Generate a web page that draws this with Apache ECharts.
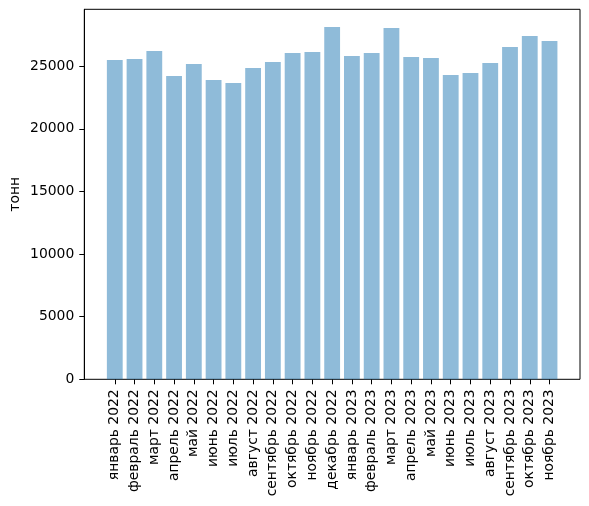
<!DOCTYPE html>
<html>
<head>
<meta charset="utf-8">
<title>тонн</title>
<script src="https://cdn.jsdelivr.net/npm/echarts@6/dist/echarts.min.js"></script>
<style>
html, body { margin: 0; padding: 0; background: #fff; }
#chart { width: 589px; height: 506px; }
</style>
</head>
<body>
<div id="chart"></div>
<script>
var months = ['январь 2022', 'февраль 2022', 'март 2022', 'апрель 2022', 'май 2022', 'июнь 2022',
  'июль 2022', 'август 2022', 'сентябрь 2022', 'октябрь 2022', 'ноябрь 2022', 'декабрь 2022',
  'январь 2023', 'февраль 2023', 'март 2023', 'апрель 2023', 'май 2023', 'июнь 2023',
  'июль 2023', 'август 2023', 'сентябрь 2023', 'октябрь 2023', 'ноябрь 2023'];
var tonnes = [25500, 25580, 26220, 24220, 25180, 23900, 23660, 24860, 25340, 26060, 26140, 28140,
  25820, 26060, 28060, 25740, 25660, 24300, 24460, 25260, 26540, 27420, 27020];

var FONT = 'DejaVu Sans';
var yMax = 29550;

var chart = echarts.init(document.getElementById('chart'));
var option = {
  animation: false,
  textStyle: { fontFamily: FONT },
  grid: [
    // frame around the plot
    { left: 84.3, right: 9, top: 9.3, bottom: 126.7, show: true, borderColor: '#000', borderWidth: 1,
      backgroundColor: 'transparent', containLabel: false, outerBoundsMode: 'none' },
    // bars, with matplotlib's side margins
    { left: 104.9, right: 29.6, top: 9.3, bottom: 126.7, containLabel: false, outerBoundsMode: 'none' }
  ],
  xAxis: [
    { gridIndex: 0, type: 'value', min: 0, max: 1, show: false },
    {
      gridIndex: 1, type: 'category', data: months,
      axisLine: { show: false },
      axisTick: { show: true, alignWithLabel: true, length: 5, lineStyle: { color: '#000' } },
      axisLabel: { rotate: 90, interval: 0, margin: 10, color: '#000', fontSize: 13.9, fontFamily: FONT }
    }
  ],
  yAxis: [
    {
      gridIndex: 0, type: 'value', min: 0, max: yMax, interval: 5000,
      name: 'тонн', nameLocation: 'middle', nameGap: 62, nameMoveOverlap: false,
      nameTextStyle: { color: '#000', fontSize: 13.9, fontFamily: FONT },
      axisLine: { show: true, lineStyle: { color: '#000' } },
      axisTick: { show: true, length: 5, lineStyle: { color: '#000' } },
      axisLabel: { margin: 10, color: '#000', fontSize: 13.9, fontFamily: FONT, showMaxLabel: false,
        formatter: function (v) { return String(v); } },
      splitLine: { show: false }
    },
    { gridIndex: 1, type: 'value', min: 0, max: yMax, show: false, splitLine: { show: false } }
  ],
  series: [{
    type: 'bar',
    xAxisIndex: 1,
    yAxisIndex: 1,
    data: tonnes,
    barWidth: '80%',
    itemStyle: { color: '#1f77b4', opacity: 0.5 }
  }]
};
chart.setOption(option);
</script>
</body>
</html>
